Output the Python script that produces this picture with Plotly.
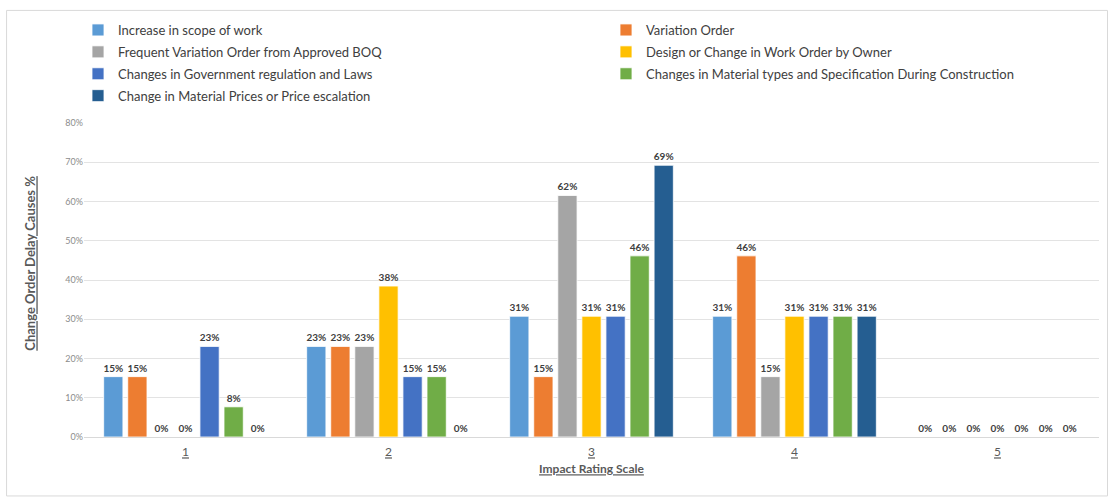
import plotly.graph_objects as go

# Impact rating categories and percentage of respondents per change-order cause
categories = ["1", "2", "3", "4", "5"]
tick_labels = ["<u>1</u>", "<u>2</u>", "<u>3</u>", "<u>4</u>", "<u>5</u>"]

series_names = [
    "Increase in scope of work",
    "Variation Order",
    "Frequent Variation Order from Approved BOQ",
    "Design or Change in Work Order by Owner",
    "Changes in Government regulation and Laws",
    "Changes in Material types and Specification During Construction",
    "Change in Material Prices or Price escalation",
]

increase_scope = [15.38, 23.08, 30.77, 30.77, 0]
variation_order = [15.38, 23.08, 15.38, 46.15, 0]
frequent_variation = [0, 23.08, 61.54, 15.38, 0]
design_change = [0, 38.46, 30.77, 30.77, 0]
gov_regulation = [23.08, 15.38, 30.77, 30.77, 0]
material_types = [7.69, 15.38, 46.15, 30.77, 0]
price_escalation = [0, 0, 69.23, 30.77, 0]

series_values = [increase_scope, variation_order, frequent_variation, design_change,
                 gov_regulation, material_types, price_escalation]
colors = ["#5B9BD5", "#ED7D31", "#A5A5A5", "#FFC000", "#4472C4", "#70AD47", "#255E91"]
# left legend column holds series 0,2,4,6; right column holds 1,3,5
legend_ids = ["legend", "legend2", "legend", "legend2", "legend", "legend2", "legend"]

FONT = "Lato"

fig = go.Figure()
for i, (name, vals, col) in enumerate(zip(series_names, series_values, colors)):
    fig.add_trace(go.Bar(
        x=categories, y=vals, name=name,
        marker=dict(color=col, line=dict(color="rgba(255,255,255,0.8)", width=1)),
        text=vals, texttemplate="%{y:.0f}%", textposition="outside",
        constraintext="none",
        textfont=dict(family=FONT, size=10, color="#404040", weight="bold"),
        cliponaxis=False, legend=legend_ids[i], legendgroup=str(i),
    ))

legend_common = dict(
    font=dict(family=FONT, size=13, color="#404040"),
    bgcolor="rgba(0,0,0,0)", borderwidth=0,
    xanchor="left", yanchor="top", yref="container", xref="container",
    tracegroupgap=2, itemwidth=30, traceorder="grouped",
)

fig.update_layout(
    width=1109, height=497,
    margin=dict(l=83.5, r=9.5, t=122.7, b=60, autoexpand=False),
    paper_bgcolor="white", plot_bgcolor="white",
    barmode="group", bargap=0.17, bargroupgap=0.2,
    font=dict(family=FONT, color="#595959"),
    legend=dict(x=78 / 1109, y=1 - 15 / 497, **legend_common),
    legend2=dict(x=606 / 1109, y=1 - 15 / 497, **legend_common),
    xaxis=dict(
        tickmode="array", tickvals=categories, ticktext=tick_labels,
        tickfont=dict(family=FONT, size=12, color="#595959"),
        ticklabelstandoff=4,
        showline=True, linecolor="#D9D9D9", linewidth=1, ticks="",
        title=dict(text="<u><b>Impact Rating Scale</b></u>", standoff=6,
                   font=dict(family=FONT, size=12, color="#595959")),
    ),
    yaxis=dict(
        range=[0, 80], dtick=10, ticksuffix="%",
        tickfont=dict(family=FONT, size=9, color="#8C8C8C"),
        gridcolor="#E3E3E3", gridwidth=1, zeroline=False,
        showline=False, ticks="",
    ),
    annotations=[dict(
        text="<u><b>Change Order Delay Causes %</b></u>",
        xref="paper", yref="paper", x=(30 - 83.5) / 1016, y=(437 - 263) / 314.3,
        xanchor="center", yanchor="middle", textangle=-90, showarrow=False,
        font=dict(family=FONT, size=13, color="#595959"),
    )],
    shapes=[dict(
        type="rect", xref="paper", yref="paper",
        x0=(6 - 83.5) / 1016, x1=(1108 - 83.5) / 1016,
        y0=-(496 - 437) / 314.3, y1=1 + (122.7 - 10) / 314.3,
        line=dict(color="#D9D9D9", width=1), fillcolor="rgba(0,0,0,0)", layer="below",
    )],
)

fig.write_html("out.html")
